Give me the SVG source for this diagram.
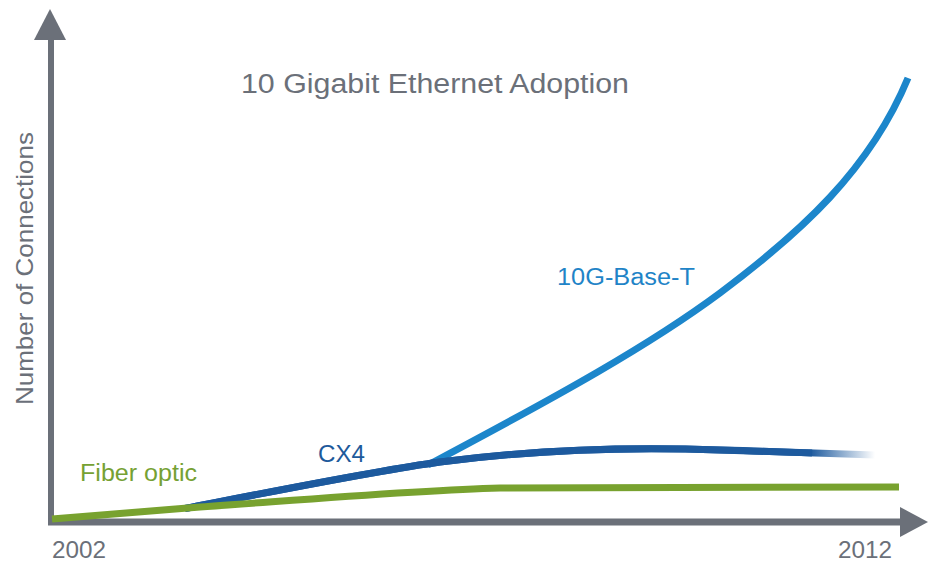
<svg xmlns="http://www.w3.org/2000/svg" width="933" height="563" viewBox="0 0 933 563">
<defs>
<style>
text{font-family:"Liberation Sans",Arial,sans-serif;}
.gray{fill:#6b7079;}
.axis{stroke:#6b7079;fill:none;}
.curve{fill:none;stroke-linecap:butt;stroke-linejoin:round;}
</style>
<linearGradient id="fade" gradientUnits="userSpaceOnUse" x1="810" y1="0" x2="875" y2="0">
<stop offset="0" stop-color="#1d5a9e" stop-opacity="1"/>
<stop offset="1" stop-color="#1d5a9e" stop-opacity="0"/>
</linearGradient>
</defs>
<rect width="933" height="563" fill="#ffffff"/>
<g id="axes">
<line class="axis" x1="51" y1="38" x2="51" y2="525" stroke-width="6"/>
<polygon points="50,9 34,40 66,40" fill="#6b7079"/>
<line class="axis" x1="48" y1="522" x2="902" y2="522" stroke-width="7"/>
<polygon points="900,507 928,522 900,537" fill="#6b7079"/>
</g>
<g id="connectors">
<path id="base-t" class="curve" d="M428,465 C560,395 650,345 720,293 C800,233 870,170 908,78" stroke="#1c86cb" stroke-width="7"/>
<path id="cx4" class="curve" d="M185,508.5 C290,488 380,470 440,462 C540,449 640,447 720,450 C780,452 830,454 875,455" stroke="url(#fade)" stroke-width="7"/>
<path id="cx4-solid" class="curve" d="M185,508.5 C290,488 380,470 440,462 C540,449 640,447 720,450 C760,451 790,452 812,453" stroke="#1d5a9e" stroke-width="7"/>
<path id="fiber" class="curve" d="M52,519 L200,507 C300,500 420,490 500,488 C560,487 700,487 899,487" stroke="#78a22f" stroke-width="7"/>
</g>
<g id="title"><text class="gray" x="241" y="93" font-size="27" textLength="388" lengthAdjust="spacingAndGlyphs">10 Gigabit Ethernet Adoption</text></g>
<g id="y-label"><text class="gray" transform="translate(33,405) rotate(-90)" font-size="24" textLength="273" lengthAdjust="spacingAndGlyphs">Number of Connections</text></g>
<g id="label-base-t"><text x="557" y="285" font-size="23" fill="#1f84c7" textLength="138" lengthAdjust="spacingAndGlyphs">10G-Base-T</text></g>
<g id="label-cx4"><text x="318" y="462" font-size="24" fill="#1d5a9b" textLength="47" lengthAdjust="spacingAndGlyphs">CX4</text></g>
<g id="label-fiber"><text x="80" y="481" font-size="23" fill="#76a133" textLength="117" lengthAdjust="spacingAndGlyphs">Fiber optic</text></g>
<g id="label-2002"><text class="gray" x="52" y="558" font-size="24" textLength="54" lengthAdjust="spacingAndGlyphs">2002</text></g>
<g id="label-2012"><text class="gray" x="838" y="558" font-size="24" textLength="54" lengthAdjust="spacingAndGlyphs">2012</text></g>
</svg>
